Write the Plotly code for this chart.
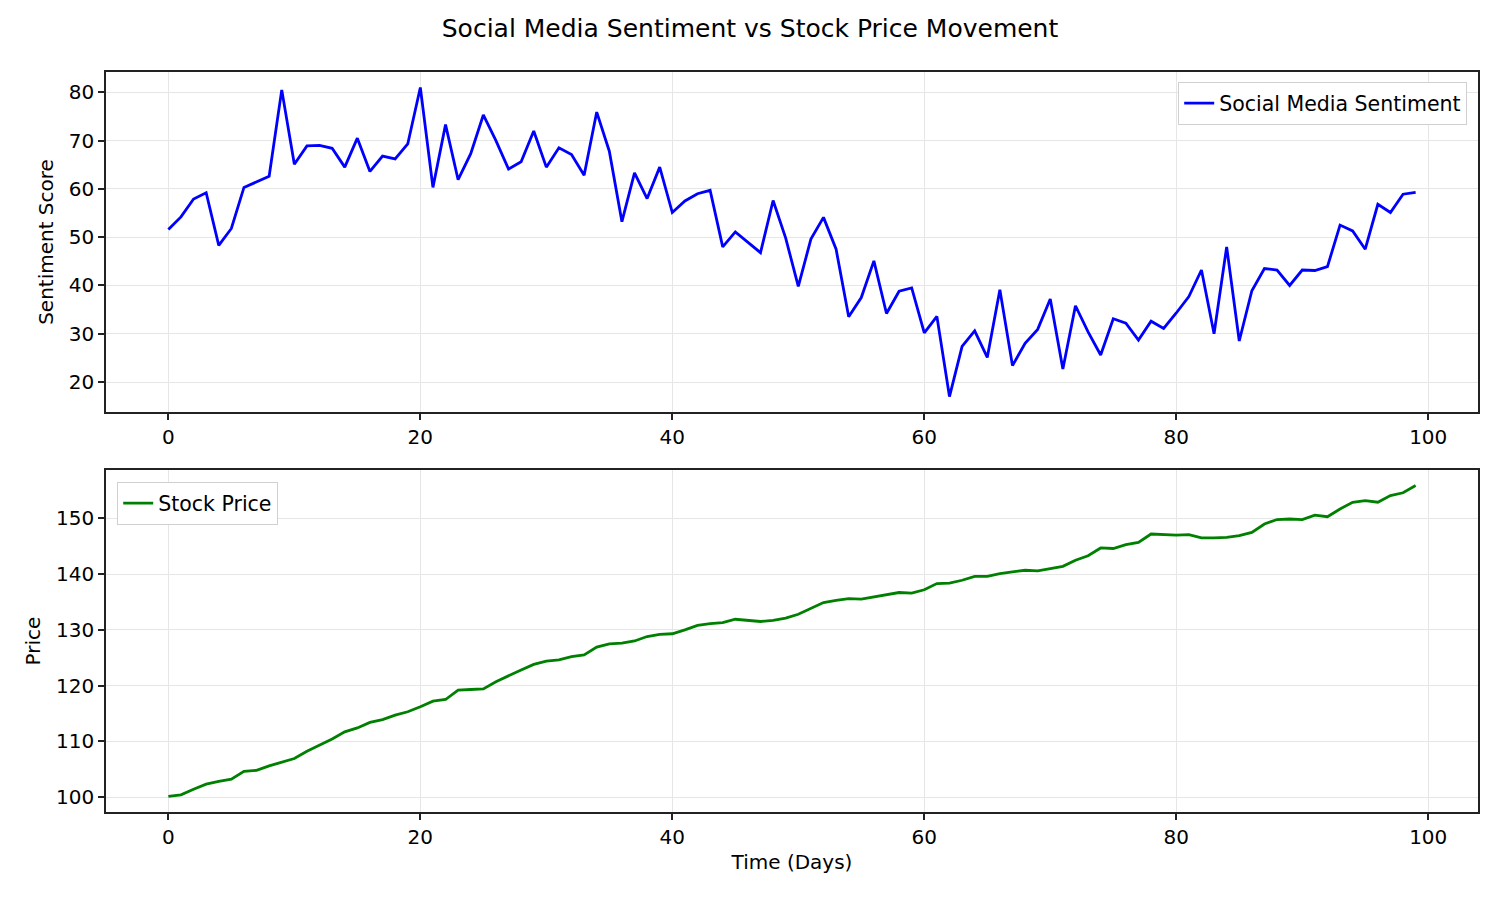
import plotly.graph_objects as go
from plotly.subplots import make_subplots

days = list(range(100))

sentiment = [
    51.6, 54.2, 57.9, 59.2, 48.3, 51.8, 60.3, 61.5, 62.6, 80.5,
    65.1, 68.9, 69.0, 68.4, 64.5, 70.5, 63.6, 66.8, 66.2, 69.3,
    81.0, 60.3, 73.3, 61.9, 67.3, 75.3, 70.0, 64.1, 65.6, 72.0,
    64.5, 68.5, 67.1, 62.8, 75.9, 67.8, 53.2, 63.3, 58.0, 64.5,
    55.1, 57.5, 59.0, 59.7, 48.0, 51.1, 49.0, 46.8, 57.6, 49.8,
    39.8, 49.6, 54.1, 47.5, 33.5, 37.5, 45.1, 34.2, 38.8, 39.5,
    30.2, 33.6, 17.0, 27.4, 30.6, 25.1, 39.1, 23.4, 28.0, 30.9,
    37.2, 22.7, 35.8, 30.4, 25.6, 33.1, 32.2, 28.7, 32.6, 31.1,
    34.3, 37.7, 43.2, 30.0, 48.0, 28.5, 38.9, 43.5, 43.2, 40.0,
    43.2, 43.1, 43.9, 52.5, 51.3, 47.5, 56.8, 55.1, 58.9, 59.3,
]

price = [
    100.1, 100.4, 101.4, 102.3, 102.8, 103.2, 104.6, 104.8, 105.6, 106.3,
    106.9, 108.2, 109.3, 110.4, 111.7, 112.4, 113.4, 113.9, 114.7, 115.3,
    116.2, 117.2, 117.5, 119.2, 119.3, 119.4, 120.7, 121.8, 122.8, 123.8,
    124.4, 124.6, 125.2, 125.5, 126.9, 127.5, 127.6, 128.0, 128.8, 129.2,
    129.3, 130.0, 130.8, 131.1, 131.3, 131.9, 131.7, 131.5, 131.7, 132.1,
    132.8, 133.9, 134.9, 135.3, 135.6, 135.5, 135.9, 136.2, 136.7, 136.6,
    137.2, 138.3, 138.4, 138.9, 139.6, 139.6, 140.1, 140.4, 140.7, 140.6,
    141.0, 141.4, 142.5, 143.3, 144.7, 144.6, 145.3, 145.7, 147.2, 147.1,
    147.0, 147.1, 146.5, 146.5, 146.6, 146.9, 147.5, 149.0, 149.8, 149.9,
    149.8, 150.6, 150.3, 151.7, 152.9, 153.2, 152.9, 154.1, 154.6, 155.9,
]

x_ticks = [0, 20, 40, 60, 80, 100]
sent_ticks = [20, 30, 40, 50, 60, 70, 80]
price_ticks = [100, 110, 120, 130, 140, 150]


def padded(vals, frac=0.05):
    lo, hi = min(vals), max(vals)
    d = (hi - lo) * frac
    return [lo - d, hi + d]


FONT = "DejaVu Sans"
FS = 20
GRID = "#e6e6e6"

fig = make_subplots(rows=2, cols=1, vertical_spacing=0.0)

fig.add_trace(go.Scatter(x=days, y=sentiment, mode="lines", name="Social Media Sentiment",
                         line=dict(color="#0000ff", width=2.8), legend="legend"), row=1, col=1)
fig.add_trace(go.Scatter(x=days, y=price, mode="lines", name="Stock Price",
                         line=dict(color="#008000", width=2.8), legend="legend2"), row=2, col=1)

axis_common = dict(
    showline=True, linecolor="#222222", linewidth=1.6, mirror=True,
    ticks="outside", ticklen=6, tickwidth=1.5, tickcolor="#222222",
    showgrid=True, gridcolor=GRID, gridwidth=1.4, zeroline=False,
    tickfont=dict(family=FONT, size=FS, color="black"),
)

xr = padded(days)
fig.update_xaxes(**axis_common, range=xr, tickvals=x_ticks)
fig.update_xaxes(title=dict(text="Time (Days)", font=dict(family=FONT, size=FS, color="black"), standoff=7),
                 row=2, col=1)
fig.update_yaxes(**axis_common)
fig.update_yaxes(range=padded(sentiment), tickvals=sent_ticks,
                 title=dict(text="Sentiment Score", font=dict(family=FONT, size=FS, color="black"), standoff=10),
                 row=1, col=1)
fig.update_yaxes(range=padded(price), tickvals=price_ticks,
                 title=dict(text="Price", font=dict(family=FONT, size=FS, color="black"), standoff=10),
                 row=2, col=1)

fig.update_layout(
    width=1500, height=900,
    paper_bgcolor="white", plot_bgcolor="white",
    margin=dict(l=106, r=22, t=72, b=88),
    font=dict(family=FONT, size=FS, color="black"),
    title=dict(text="Social Media Sentiment vs Stock Price Movement", x=0.5, xanchor="center",
               y=1 - 28 / 900, yanchor="middle", font=dict(family=FONT, size=25, color="black")),
    yaxis=dict(domain=[(812 - 412) / 740, 1.0]),
    yaxis2=dict(domain=[0.0, (812 - 470) / 740]),
    legend=dict(x=(1467 - 106) / 1372, xanchor="right", y=(812 - 82) / 740, yanchor="top",
                bgcolor="white", bordercolor="#d0d0d0", borderwidth=1.2,
                font=dict(family=FONT, size=20.5, color="black")),
    legend2=dict(x=(117 - 106) / 1372, xanchor="left", y=(812 - 482) / 740, yanchor="top",
                 bgcolor="white", bordercolor="#d0d0d0", borderwidth=1.2,
                 font=dict(family=FONT, size=20.5, color="black")),
    showlegend=True,
)

fig.write_html("out.html")
